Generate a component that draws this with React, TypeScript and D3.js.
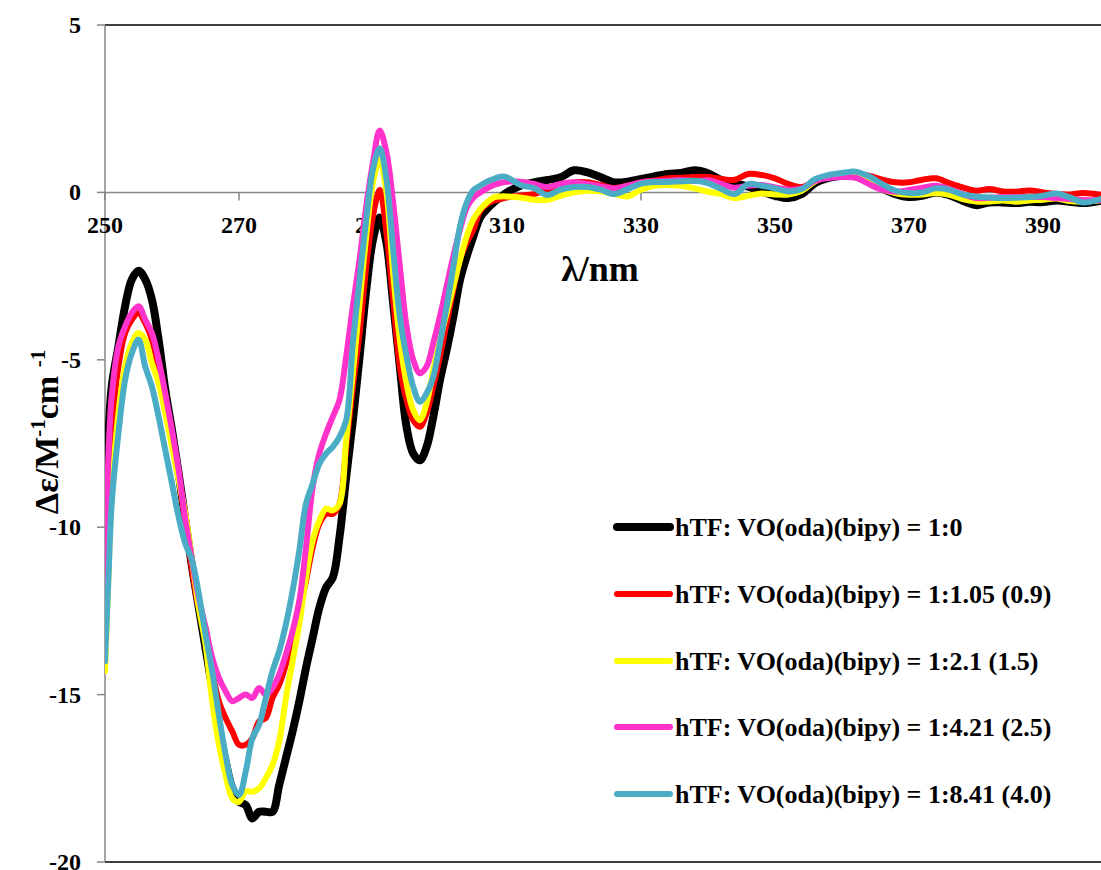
import React from "react";
import * as d3 from "d3";

// Wavelength grid (nm)
const wavelengths = [
  250, 250.5, 251, 252, 253, 254, 255, 256, 257, 258, 259, 260, 261, 262, 263, 264, 265, 266, 267, 268, 269,
  270, 271, 272, 273, 274, 275, 276, 277, 278, 279, 280, 281, 282, 283, 284, 285, 286, 287, 288, 289,
  290, 291, 292, 293, 294, 295, 296, 297, 298, 299, 300, 301, 302, 303, 304, 305, 306, 307, 308, 309, 310,
  312, 314, 316, 318, 320, 322, 324, 326, 328, 330, 332, 334, 336, 338, 340, 342, 344, 346, 348, 350,
  352, 354, 356, 358, 360, 362, 364, 366, 368, 370, 372, 374, 376, 378, 380, 382, 384, 386, 388, 390,
  392, 394, 396, 399,
];

// Δε (M^-1 cm^-1) for each hTF : VO(oda)(bipy) ratio
const ratio1to0 = [
  -11.7, -7.4, -5.8, -4.6, -3.4, -2.6, -2.34, -2.6, -3.2, -4.4, -5.9, -7.1, -8.4, -9.8, -11.2, -12.4, -13.6, -14.8, -16.0, -17.0, -17.8,
  -18.2, -18.3, -18.7, -18.5, -18.5, -18.5, -17.7, -16.9, -16.1, -15.2, -14.2, -13.3, -12.4, -11.8, -11.5, -10.3, -8.5, -6.8, -4.9, -2.9,
  -1.4, -0.75, -1.5, -3.3, -5.2, -7.0, -7.8, -8.0, -7.6, -6.7, -5.6, -4.7, -3.7, -2.6, -1.9, -1.3, -0.75, -0.5, -0.3, -0.15, 0.0,
  0.2, 0.3, 0.37, 0.45, 0.66, 0.6, 0.45, 0.3, 0.32, 0.4, 0.48, 0.55, 0.58, 0.66, 0.57, 0.37, 0.27, 0.17, 0.03, -0.1,
  -0.17, -0.05, 0.28, 0.43, 0.5, 0.48, 0.32, 0.12, -0.05, -0.14, -0.1, 0.0, -0.08, -0.25, -0.38, -0.3, -0.3, -0.32, -0.28, -0.29,
  -0.24, -0.28, -0.32, -0.23,
];

const ratio1to105 = [
  -12.8, -9.5, -7.2, -5.2, -4.2, -3.8, -3.6, -3.9, -4.4, -5.3, -6.2, -7.3, -8.5, -9.9, -11.3, -12.4, -13.0, -14.3, -15.2, -15.7, -16.1,
  -16.5, -16.5, -16.3, -15.8, -15.7, -15.1, -14.7, -14.1, -13.4, -12.5, -11.6, -10.6, -9.9, -9.6, -9.6, -9.3, -7.6, -5.8, -4.2, -2.2,
  -0.7, 0.07, -1.2, -3.2, -5.2, -6.2, -6.8, -7.0, -6.6, -5.8, -4.9, -3.9, -2.9, -2.0, -1.5, -1.1, -0.55, -0.35, -0.25, -0.2, -0.15,
  -0.1, -0.05, 0.07, 0.2, 0.3, 0.3, 0.22, 0.13, 0.2, 0.3, 0.36, 0.42, 0.44, 0.46, 0.46, 0.4, 0.38, 0.55, 0.52, 0.42,
  0.25, 0.16, 0.35, 0.48, 0.56, 0.55, 0.5, 0.38, 0.3, 0.3, 0.38, 0.42, 0.28, 0.15, 0.05, 0.1, 0.03, 0.02, 0.06, 0.0,
  -0.05, -0.06, -0.02, -0.08,
];

const ratio1to21 = [
  -14.3, -11.5, -9.0, -6.6, -5.2, -4.5, -4.2, -4.4, -5.1, -5.7, -6.6, -7.6, -8.6, -9.6, -11.0, -12.4, -13.5, -15.2, -16.5, -17.4, -18.1,
  -18.2, -17.9, -17.9, -17.8, -17.5, -17.1, -16.4, -15.1, -14.0, -12.9, -11.5, -10.4, -9.8, -9.45, -9.5, -9.3, -7.4, -5.4, -3.3, -1.3,
  0.3, 0.97, 0.0, -2.4, -4.4, -5.7, -6.5, -6.8, -6.3, -5.3, -4.4, -3.6, -2.8, -2.0, -1.3, -0.8, -0.5, -0.3, -0.15, -0.12, -0.12,
  -0.15, -0.22, -0.22, -0.1, 0.0, 0.05, 0.03, -0.05, -0.12, 0.08, 0.2, 0.22, 0.2, 0.12, 0.02, -0.05, -0.17, -0.1, -0.03, -0.06,
  -0.06, 0.05, 0.33, 0.5, 0.56, 0.5, 0.32, 0.1, -0.03, -0.07, -0.06, -0.02, -0.07, -0.2, -0.27, -0.27, -0.24, -0.28, -0.24, -0.22,
  -0.18, -0.26, -0.28, -0.23,
];

const ratio1to421 = [
  -12.3, -7.9, -6.1, -4.6, -4.0, -3.6, -3.4, -3.8, -4.2, -5.0, -6.0, -7.1, -8.3, -9.8, -11.0, -12.1, -13.0, -13.9, -14.5, -14.9, -15.2,
  -15.1, -15.0, -15.1, -14.8, -15.0, -14.8, -14.4, -13.8, -13.1, -12.2, -10.6, -8.8, -7.8, -7.2, -6.7, -6.2, -4.9, -3.4, -2.0, -0.4,
  0.9, 1.85, 1.2, -0.3, -2.2, -4.0, -5.0, -5.4, -5.2, -4.5, -3.7, -2.8, -1.9, -1.1, -0.45, -0.15, 0.0, 0.12, 0.22, 0.28, 0.32,
  0.32, 0.25, 0.16, 0.25, 0.3, 0.25, 0.18, 0.12, 0.2, 0.3, 0.33, 0.35, 0.37, 0.34, 0.36, 0.25, 0.14, 0.2, 0.22, 0.15,
  0.08, 0.12, 0.35, 0.43, 0.46, 0.44, 0.25, 0.08, 0.02, 0.07, 0.14, 0.2, 0.1, -0.05, -0.17, -0.16, -0.14, -0.14, -0.14, -0.14,
  -0.17, -0.2, -0.23, -0.23,
];

const ratio1to841 = [
  -14.0, -11.6, -9.3, -7.2, -5.6, -4.8, -4.4, -5.2, -5.8, -6.7, -7.7, -8.7, -9.7, -10.5, -11.0, -12.0, -13.2, -14.3, -15.6, -16.8, -17.7,
  -18.0, -17.3, -16.3, -15.9, -15.1, -14.3, -13.7, -12.9, -11.9, -10.7, -9.3, -8.7, -8.1, -7.8, -7.6, -7.3, -6.8, -4.5, -2.6, -0.8,
  0.7, 1.32, 0.4, -1.7, -3.7, -4.9, -5.8, -6.25, -6.0, -5.5, -4.5, -3.4, -2.2, -1.0, -0.3, 0.07, 0.2, 0.32, 0.4, 0.47, 0.45,
  0.22, 0.13, -0.08, 0.08, 0.16, 0.16, 0.08, -0.05, 0.1, 0.26, 0.31, 0.31, 0.33, 0.35, 0.28, 0.1, -0.05, 0.25, 0.2, 0.12,
  0.03, 0.1, 0.4, 0.52, 0.58, 0.62, 0.48, 0.25, 0.05, -0.02, 0.0, 0.12, 0.08, -0.06, -0.13, -0.15, -0.17, -0.16, -0.14, -0.1,
  -0.03, -0.15, -0.3, -0.17,
];

const seriesLabels = [
  "hTF: VO(oda)(bipy) = 1:0",
  "hTF: VO(oda)(bipy) = 1:1.05 (0.9)",
  "hTF: VO(oda)(bipy) = 1:2.1 (1.5)",
  "hTF: VO(oda)(bipy) = 1:4.21 (2.5)",
  "hTF: VO(oda)(bipy) = 1:8.41 (4.0)",
];
const seriesValues = [ratio1to0, ratio1to105, ratio1to21, ratio1to421, ratio1to841];
const seriesColors = ["#000000", "#ff0000", "#ffff00", "#ff33cc", "#4bacc6"];
const seriesWidths = [8, 6, 6, 6, 6];

const xTicks = [250, 270, 290, 310, 330, 350, 370, 390];
const yTicks = [5, 0, -5, -10, -15, -20];

const W = 1101;
const H = 870;
const FONT = "'Times New Roman', 'Liberation Serif', serif";
const AXIS_GRAY = "#868686";

export default function App() {
  const x = d3.scaleLinear().domain([250, 400]).range([105, 1110]);
  const y = d3.scaleLinear().domain([-20, 5]).range([862, 25]);

  const line = d3
    .line<[number, number]>()
    .x((d) => x(d[0]))
    .y((d) => y(d[1]))
    .curve(d3.curveCatmullRom.alpha(0.5));

  const legendY = [527, 594, 661, 727, 794];

  return (
    <svg
      width={W}
      height={H}
      style={{ position: "absolute", left: 0, top: 0, background: "#fff" }}
      fontFamily={FONT}
    >
      <defs>
        <clipPath id="plotClip">
          <rect x={105} y={0} width={W - 105} height={H} />
        </clipPath>
      </defs>
      <rect x={0} y={0} width={W} height={H} fill="#fff" />

      {/* plot frame: top and bottom edges */}
      <line x1={105} x2={W} y1={y(5)} y2={y(5)} stroke="#000" strokeWidth={1.5} />
      <line x1={105} x2={W} y1={y(-20)} y2={y(-20)} stroke="#000" strokeWidth={1.5} />

      {/* y axis */}
      <line x1={105} x2={105} y1={y(5)} y2={y(-20)} stroke={AXIS_GRAY} strokeWidth={1.5} />
      {yTicks.map((t) => (
        <g key={"yt" + t}>
          <line x1={97} x2={105} y1={y(t)} y2={y(t)} stroke={AXIS_GRAY} strokeWidth={1.5} />
          <text
            x={81}
            y={y(t)}
            dy="0.33em"
            textAnchor="end"
            fontSize={24}
            fontWeight="bold"
          >
            {t}
          </text>
        </g>
      ))}

      {/* x axis along zero */}
      <line x1={105} x2={W} y1={y(0)} y2={y(0)} stroke={AXIS_GRAY} strokeWidth={1.5} />
      {xTicks.map((t) => (
        <g key={"xt" + t}>
          <line x1={x(t)} x2={x(t)} y1={y(0)} y2={y(0) + 8} stroke={AXIS_GRAY} strokeWidth={1.5} />
          <text x={x(t)} y={233} textAnchor="middle" fontSize={24} fontWeight="bold">
            {t}
          </text>
        </g>
      ))}

      <text x={600} y={281} textAnchor="middle" fontSize={36} fontWeight="bold">
        λ/nm
      </text>

      <text
        transform="translate(58,432) rotate(-90)"
        textAnchor="middle"
        fontSize={34}
        fontWeight="bold"
      >
        Δε/M
        <tspan fontSize={21} dy={-13}>-1</tspan>
        <tspan fontSize={34} dy={13}>cm </tspan>
        <tspan fontSize={21} dy={-13}>-1</tspan>
      </text>

      {/* spectra */}
      <g clipPath="url(#plotClip)">
        {seriesValues.map((vals, i) => (
          <path
            key={"s" + i}
            d={line(wavelengths.map((w, j) => [w, vals[j]] as [number, number])) || ""}
            fill="none"
            stroke={seriesColors[i]}
            strokeWidth={seriesWidths[i]}
            strokeLinejoin="round"
            strokeLinecap="round"
          />
        ))}
      </g>

      {/* legend */}
      {seriesLabels.map((lab, i) => (
        <g key={"lg" + i}>
          <line
            x1={617}
            x2={670}
            y1={legendY[i]}
            y2={legendY[i]}
            stroke={seriesColors[i]}
            strokeWidth={i === 0 ? 8 : 6}
            strokeLinecap="round"
          />
          <text x={675} y={legendY[i] + 9} fontSize={26} fontWeight="bold">
            {lab}
          </text>
        </g>
      ))}
    </svg>
  );
}
